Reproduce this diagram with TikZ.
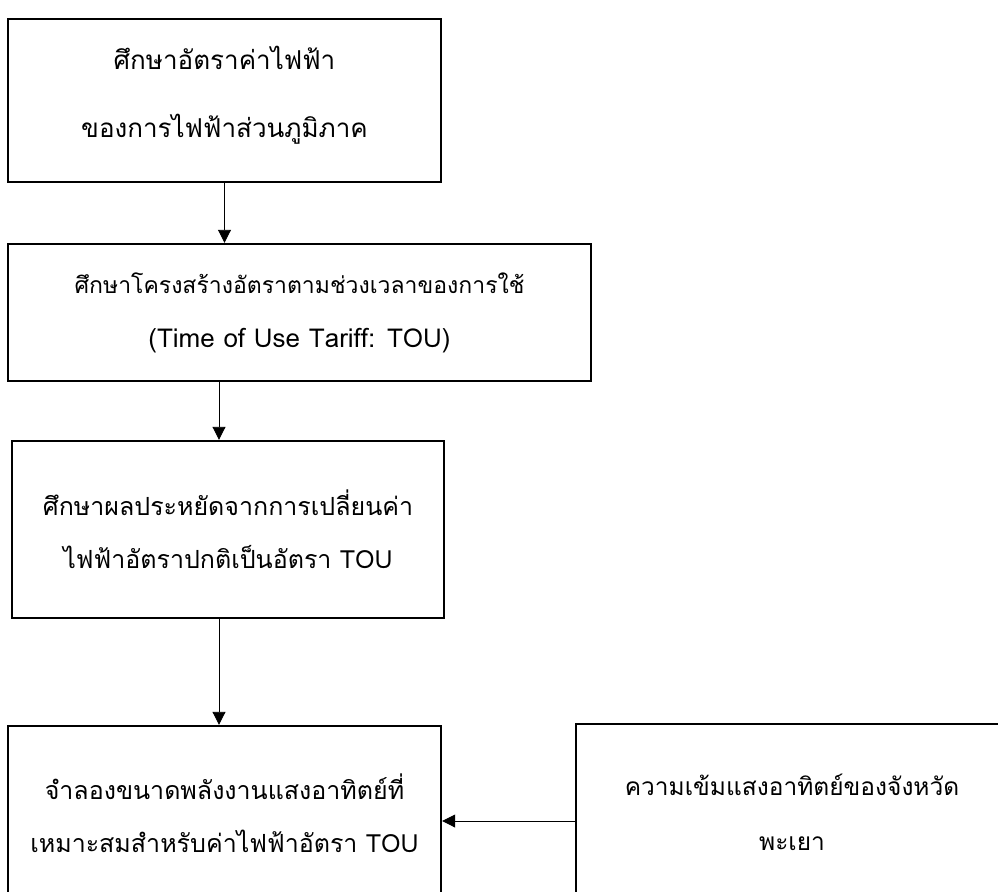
\documentclass[tikz,border=0pt]{standalone}
\usepackage{fontspec}
\newfontfamily\thaifont[Script=Thai]{Loma}
\usepackage{tikz}
\usetikzlibrary{arrows.meta}
\tikzstyle{box} = [draw=black, line width=2.4pt, rectangle, align=center, inner sep=0pt, font={\thaifont\fontsize{25}{53}\selectfont}]
\tikzstyle{arrow} = [line width=0.9pt, -{Triangle[length=13pt,width=13pt]}]

\begin{document}
\begin{tikzpicture}[x=1pt, y=-1pt]
        \clip (0,0) rectangle (998,891);
        \useasboundingbox (0,0) rectangle (998,891);

        \node[box, minimum width=433pt, minimum height=163pt, text depth=18pt, font={\thaifont\fontsize{26}{68}\selectfont}] (b1) at (224.5,100.5) {ศึกษาอัตราค่าไฟฟ้า\\ของการไฟฟ้าส่วนภูมิภาค};
        \node[box, minimum width=583pt, minimum height=137pt, font={\thaifont\fontsize{23}{54}\selectfont}] (b2) at (299.5,312.5) {ศึกษาโครงสร้างอัตราตามช่วงเวลาของการใช้\\{\fontsize{26}{54}\selectfont(Time of Use Tariff: TOU)}};
        \node[box, minimum width=432pt, minimum height=177pt] (b3) at (228,529.5) {ศึกษาผลประหยัดจากการเปลี่ยนค่า\\ไฟฟ้าอัตราปกติเป็นอัตรา TOU};
        \node[box, minimum width=433pt, minimum height=192pt, text depth=18pt] (b4) at (224.5,822) {จำลองขนาดพลังงานแสงอาทิตย์ที่\\เหมาะสมสำหรับค่าไฟฟ้าอัตรา TOU};
        \node[box, minimum width=432pt, minimum height=194pt, text depth=18pt, font={\thaifont\fontsize{24.5}{55}\selectfont}] (b5) at (792,821) {ความเข้มแสงอาทิตย์ของจังหวัด\\พะเยา};

        % Arrows
        \draw[arrow] (b1.south) -- (b1.south |- b2.north);
        \draw[arrow] ([xshift=-80.5pt]b2.south) -- ([xshift=-80.5pt]b2.south |- b3.north);
        \draw[arrow] ([xshift=-9pt]b3.south) -- ([xshift=-9pt]b3.south |- b4.north);
        \draw[arrow] (b5.west) -- (b5.west -| b4.east);
\end{tikzpicture}
\end{document}
